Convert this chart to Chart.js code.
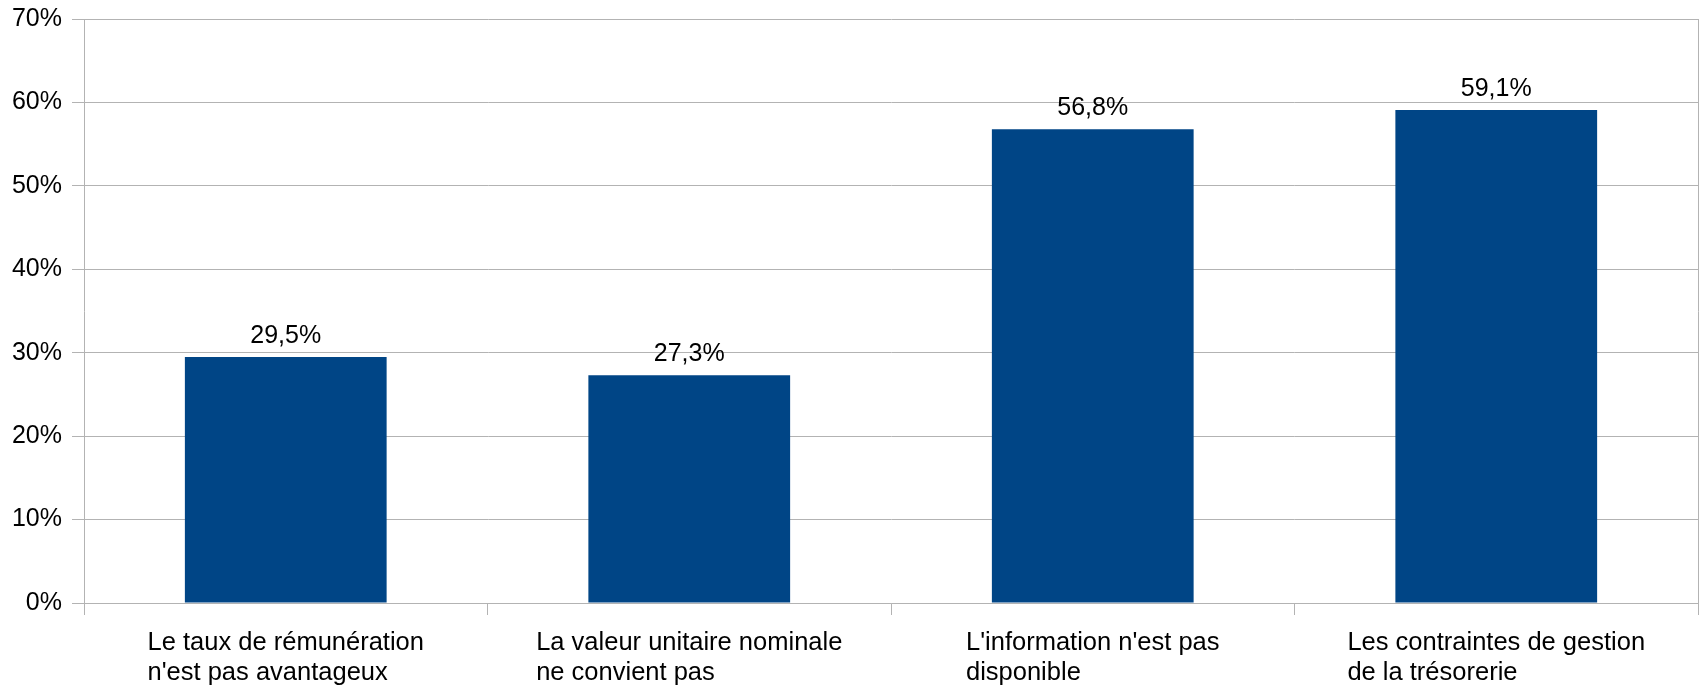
<!DOCTYPE html>
<html>
<head>
<meta charset="utf-8">
<script src="https://cdn.jsdelivr.net/npm/chart.js@4.4.1/dist/chart.umd.min.js"></script>
<style>
  html, body { margin: 0; padding: 0; background: #ffffff; }
  #wrap { width: 1702px; height: 686px; position: relative; }
</style>
</head>
<body>
<div id="wrap"><canvas id="chart"></canvas></div>
<script>
// données du graphique
const categories = [
  ['Le taux de rémunération', "n'est pas avantageux"],
  ['La valeur unitaire nominale', 'ne convient pas'],
  ["L'information n'est pas", 'disponible'],
  ['Les contraintes de gestion', 'de la trésorerie']
];
const values = [29.5, 27.3, 56.8, 59.1];
const yTicks = [0, 10, 20, 30, 40, 50, 60, 70];

const FONT = '"Liberation Sans", Arial, sans-serif';
const GRID = '#b3b3b3';
const BAR = '#004586';

function fmtPct(v, digits) {
  return v.toFixed(digits).replace('.', ',') + '%';
}

// libellés des catégories : bloc centré, lignes alignées à gauche
const categoryLabels = {
  id: 'categoryLabels',
  afterDraw(chart) {
    const { ctx, scales: { x }, chartArea } = chart;
    ctx.save();
    ctx.font = '25.5px ' + FONT;
    ctx.fillStyle = '#000000';
    ctx.textAlign = 'left';
    ctx.textBaseline = 'alphabetic';
    categories.forEach((lines, i) => {
      const cx = x.getPixelForValue(i);
      const w = Math.max(...lines.map(l => ctx.measureText(l).width));
      lines.forEach((line, j) => {
        ctx.fillText(line, cx - w / 2, chartArea.bottom + 47 + j * 29.5);
      });
    });
    ctx.restore();
  }
};

// valeurs au-dessus des barres
const valueLabels = {
  id: 'valueLabels',
  afterDatasetsDraw(chart) {
    const { ctx } = chart;
    const meta = chart.getDatasetMeta(0);
    ctx.save();
    ctx.font = '25px ' + FONT;
    ctx.fillStyle = '#000000';
    ctx.textAlign = 'center';
    ctx.textBaseline = 'alphabetic';
    meta.data.forEach((bar, i) => {
      ctx.fillText(fmtPct(values[i], 1), bar.x, bar.y - 14);
    });
    ctx.restore();
  }
};

new Chart(document.getElementById('chart'), {
  type: 'bar',
  data: {
    labels: categories,
    datasets: [{
      data: values,
      backgroundColor: BAR,
      borderWidth: 0,
      barPercentage: 0.5,
      categoryPercentage: 1.0
    }]
  },
  options: {
    responsive: true,
    maintainAspectRatio: false,
    animation: false,
    devicePixelRatio: 1,
    layout: { padding: { left: 12, right: 4, top: 19, bottom: 0 } },
    plugins: {
      legend: { display: false },
      tooltip: { enabled: false }
    },
    scales: {
      x: {
        offset: true,
        grid: {
          offset: true,
          drawOnChartArea: false,
          drawTicks: true,
          tickLength: 12,
          color: GRID,
          lineWidth: 1
        },
        border: { display: true, color: GRID, width: 1 },
        ticks: { display: false },
        afterFit(scale) { scale.height = 83; }
      },
      y: {
        min: 0,
        max: 70,
        afterBuildTicks(scale) {
          scale.ticks = yTicks.map(v => ({ value: v }));
        },
        afterFit(scale) {
          scale.width = 72;
          scale.paddingTop = 0;
          scale.paddingBottom = 0;
        },
        grid: {
          color: GRID,
          lineWidth: 1,
          tickLength: 12
        },
        border: { display: true, color: GRID, width: 1 },
        ticks: {
          color: '#000000',
          font: { size: 25, family: FONT },
          padding: 10,
          callback: v => v + '%'
        }
      },
      y2: {
        position: 'right',
        min: 0,
        max: 70,
        grid: { display: false },
        border: { display: true, color: GRID, width: 1 },
        ticks: { display: false },
        afterFit(scale) {
          scale.width = 0;
          scale.paddingTop = 0;
          scale.paddingBottom = 0;
        }
      }
    }
  },
  plugins: [categoryLabels, valueLabels]
});
</script>
</body>
</html>
